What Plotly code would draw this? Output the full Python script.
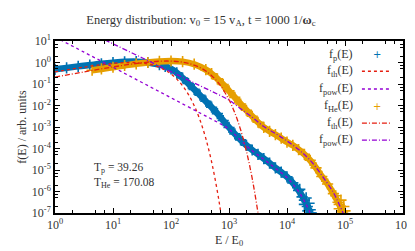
import numpy as np
import plotly.graph_objects as go

# ---------------- data (log10 values) ----------------
p_logE = [0.0, 0.2, 0.4, 0.6, 0.8, 1.0, 1.2, 1.4, 1.6, 1.8, 1.9, 2.0, 2.1, 2.2, 2.3, 2.4,
          2.5, 2.6, 2.7, 2.8, 2.9, 3.0, 3.1, 3.2, 3.3, 3.4, 3.5, 3.6, 3.7, 3.8, 3.9, 4.0,
          4.1, 4.2, 4.3, 4.35, 4.4]
p_logf = [-0.32, -0.25, -0.18, -0.12, -0.06, -0.01, 0.03, 0.04, 0.0, -0.1, -0.18, -0.3, -0.48,
          -0.72, -0.98, -1.25, -1.52, -1.8, -2.08, -2.38, -2.7, -3.02, -3.32, -3.6, -3.85,
          -4.07, -4.27, -4.47, -4.68, -4.9, -5.1, -5.32, -5.6, -5.95, -6.4, -6.7, -7.0]
p_tail_logE = [4.22, 4.26, 4.3, 4.33, 4.36, 4.38, 4.4, 4.42]
p_tail_logf = [-5.9, -6.25, -6.6, -6.3, -6.9, -6.55, -6.85, -7.0]

he_logE = [0.64, 0.8, 1.0, 1.2, 1.4, 1.6, 1.8, 2.0, 2.2, 2.4, 2.6, 2.7, 2.8, 2.9, 3.0, 3.1,
           3.2, 3.3, 3.4, 3.5, 3.6, 3.7, 3.8, 3.9, 4.0, 4.1, 4.2, 4.3, 4.4, 4.5, 4.6, 4.7,
           4.8, 4.9, 4.95, 5.0]
he_logf = [-0.36, -0.3, -0.22, -0.14, -0.06, 0.0, 0.05, 0.07, 0.04, -0.08, -0.33, -0.52,
           -0.76, -1.02, -1.32, -1.62, -1.93, -2.22, -2.5, -2.78, -3.02, -3.2, -3.35, -3.52,
           -3.7, -3.85, -4.05, -4.27, -4.55, -4.9, -5.3, -5.65, -6.1, -6.6, -6.9, -7.1]
he_tail_logE = [4.84, 4.88, 4.9, 4.93, 4.96, 4.98, 5.0]
he_tail_logf = [-6.2, -6.5, -6.8, -6.4, -6.95, -6.7, -6.9]

fth_p_logE = [0.0, 0.5, 1.0, 1.3, 1.5, 1.7, 1.9, 2.0, 2.1, 2.2, 2.3, 2.4, 2.5, 2.6, 2.7,
              2.8, 2.85, 2.9]
fth_p_logf = [-0.44, -0.215, -0.04, 0.0, -0.03, -0.134, -0.358, -0.535, -0.772, -1.082,
              -1.486, -2.007, -2.676, -3.531, -4.621, -6.005, -6.83, -7.76]

fpow_p_logE = [0.0, 0.5, 1.0, 1.5, 2.0, 2.5, 2.8, 3.0, 3.2, 3.4, 3.6, 3.8, 4.0, 4.1, 4.2,
               4.3, 4.4, 4.45]
fpow_p_logf = [1.19, 0.48, -0.22, -0.93, -1.64, -2.35, -2.78, -3.1, -3.62, -4.1, -4.5,
               -4.92, -5.35, -5.65, -6.0, -6.45, -7.0, -7.3]

fth_he_logE = [0.0, 0.5, 1.0, 1.5, 1.8, 2.0, 2.2, 2.4, 2.6, 2.8, 3.0, 3.1, 3.2, 3.3, 3.4,
               3.5, 3.55]
fth_he_logf = [-0.68, -0.438, -0.206, -0.011, 0.059, 0.065, 0.016, -0.121, -0.396, -0.89,
               -1.732, -2.343, -3.125, -4.122, -5.39, -7.0, -7.96]

fpow_he_logE = [0.7, 1.0, 1.5, 2.0, 2.5, 2.8, 3.0, 3.2, 3.4, 3.6, 3.8, 4.0, 4.2, 4.4, 4.6,
                4.8, 4.9, 5.0]
fpow_he_logf = [1.26, 0.87, 0.22, -0.43, -1.08, -1.47, -1.75, -2.15, -2.55, -2.98, -3.3,
                -3.65, -4.05, -4.55, -5.25, -6.05, -6.6, -7.2]

T_p = "39.26"
T_He = "170.08"

x_tickvals = [1, 10, 100, 1000, 1e4, 1e5, 1e6]
x_ticktext = ["10<sup>0</sup>", "10<sup>1</sup>", "10<sup>2</sup>", "10<sup>3</sup>",
              "10<sup>4</sup>", "10<sup>5</sup>", "10<sup>6</sup>"]
y_tickvals = [1e-7, 1e-6, 1e-5, 1e-4, 1e-3, 1e-2, 1e-1, 1, 10]
y_ticktext = ["10<sup>-7</sup>", "10<sup>-6</sup>", "10<sup>-5</sup>", "10<sup>-4</sup>",
              "10<sup>-3</sup>", "10<sup>-2</sup>", "10<sup>-1</sup>", "10<sup>0</sup>",
              "10<sup>1</sup>"]
minor_mant = [2, 5, 7]

legend_labels = ["f<sub>p</sub>(E)", "f<sub>th</sub>(E)", "f<sub>pow</sub>(E)",
                 "f<sub>He</sub>(E)", "f<sub>th</sub>(E)", "f<sub>pow</sub>(E)"]

# ---------------- style ----------------
BLUE = "#0072b2"
ORANGE = "#e69f00"
RED = "#e51e10"
PURPLE = "#9400d3"
FONT = "'Liberation Serif', 'Times New Roman', Times, serif"
TXT = "#333"


def pw(a):
    return [10.0 ** v for v in a]


fig = go.Figure()

# bands + crosses for measured distributions
for lx, ly, tx, ty, col in [(p_logE, p_logf, p_tail_logE, p_tail_logf, BLUE),
                            (he_logE, he_logf, he_tail_logE, he_tail_logf, ORANGE)]:
    fig.add_trace(go.Scatter(x=pw(lx), y=pw(ly), mode="lines",
                             line=dict(color=col, width=6.5, shape="spline"),
                             showlegend=False, hoverinfo="skip"))
    fig.add_trace(go.Scatter(x=pw(lx + tx), y=pw(ly + ty), mode="markers",
                             marker=dict(symbol="cross-thin", size=8,
                                         line=dict(width=1.6, color=col)),
                             showlegend=False))

# fits
fig.add_trace(go.Scatter(x=pw(fth_p_logE), y=pw(fth_p_logf), mode="lines",
                         line=dict(color=RED, width=1.3, dash="3px,3px", shape="spline"),
                         showlegend=False))
fig.add_trace(go.Scatter(x=pw(fpow_p_logE), y=pw(fpow_p_logf), mode="lines",
                         line=dict(color=PURPLE, width=1.3, dash="3px,3px", shape="spline"),
                         showlegend=False))
fig.add_trace(go.Scatter(x=pw(fth_he_logE), y=pw(fth_he_logf), mode="lines",
                         line=dict(color=RED, width=1.3, dash="5px,2px,1px,2px", shape="spline"),
                         showlegend=False))
fig.add_trace(go.Scatter(x=pw(fpow_he_logE), y=pw(fpow_he_logf), mode="lines",
                         line=dict(color=PURPLE, width=1.3, dash="5px,2px,1px,2px", shape="spline"),
                         showlegend=False))

minor_x = [m * 10 ** k for k in range(0, 6) for m in minor_mant]
minor_y = [m * 10.0 ** k for k in range(-7, 1) for m in minor_mant]

axis_common = dict(type="log", showgrid=False, zeroline=False, showline=True,
                   linecolor="black", linewidth=1.5, mirror="ticks", ticks="inside",
                   ticklen=5, tickwidth=1.2, tickcolor="black",
                   tickfont=dict(family=FONT, size=12, color=TXT))

fig.update_xaxes(range=[0, 6], tickvals=x_tickvals, ticktext=x_ticktext,
                 minor=dict(tickvals=minor_x, ticks="inside", ticklen=3, tickcolor="black",
                            tickwidth=1),
                 title=dict(text="E / E<sub>0</sub>", font=dict(family=FONT, size=12, color=TXT),
                            standoff=4),
                 **axis_common)
fig.update_yaxes(range=[-7, 1], tickvals=y_tickvals, ticktext=y_ticktext,
                 minor=dict(tickvals=minor_y, ticks="inside", ticklen=3, tickcolor="black",
                            tickwidth=1),
                 title=dict(text="f(E) / arb. units", font=dict(family=FONT, size=12, color=TXT),
                            standoff=3),
                 **axis_common)

# custom legend (text right-aligned, key on the right, like the reference)
row_y = [0.920, 0.824, 0.721, 0.621, 0.523, 0.424]
keys = [("cross", BLUE), ("dash", RED), ("dash", PURPLE),
        ("cross", ORANGE), ("dashdot", RED), ("dashdot", PURPLE)]
for lab, yy, (kind, col) in zip(legend_labels, row_y, keys):
    fig.add_annotation(xref="paper", yref="paper", x=0.862, y=yy, text=lab,
                       showarrow=False, xanchor="right", yanchor="middle",
                       font=dict(family=FONT, size=12, color=TXT))
    if kind == "cross":
        fig.add_annotation(xref="paper", yref="paper", x=0.924, y=yy, text="+",
                           showarrow=False, xanchor="center", yanchor="middle",
                           font=dict(family="DejaVu Sans", size=10, color=col))
    else:
        fig.add_shape(type="line", xref="paper", yref="paper", x0=0.882, x1=0.963,
                      y0=yy, y1=yy,
                      line=dict(color=col, width=1.3,
                                dash="3px,3px" if kind == "dash" else "5px,2px,1px,2px"))

fig.add_annotation(xref="paper", yref="paper", x=0.107, y=0.22,
                   text="T<sub>p</sub> = " + T_p + "<br>T<sub>He</sub> = " + T_He,
                   showarrow=False, xanchor="left", align="left",
                   yanchor="middle", font=dict(family=FONT, size=11.5, color=TXT))

fig.update_layout(
    width=415, height=251,
    margin=dict(l=47, r=13, t=33, b=46),
    paper_bgcolor="white", plot_bgcolor="white",
    title=dict(text="Energy distribution: v<sub>0</sub> = 15 v<sub>A</sub>, t = 1000 1/<b>ω</b><sub>c</sub>",
               x=0.465, xanchor="center", y=0.955, yanchor="middle",
               font=dict(family=FONT, size=12.5, color=TXT)),
    showlegend=False,
)

fig.write_html("out.html")
